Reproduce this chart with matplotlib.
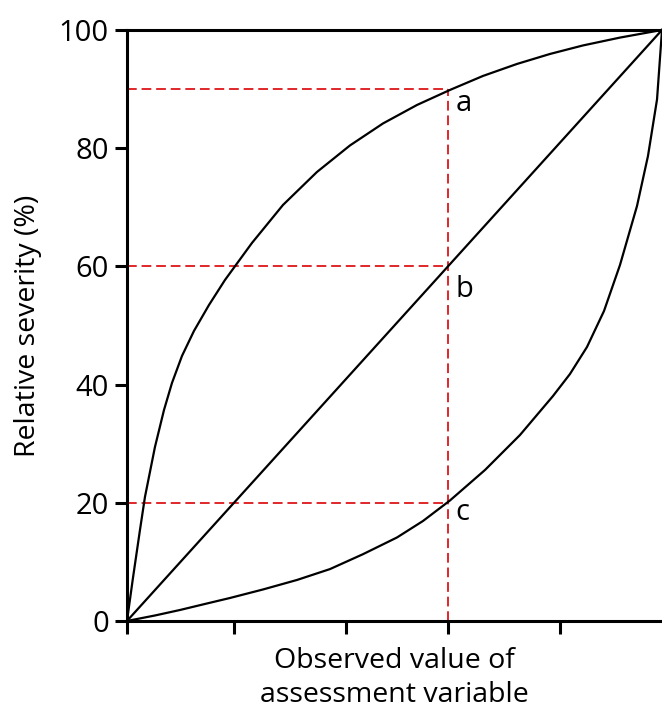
import matplotlib
matplotlib.use('Agg')
import matplotlib.pyplot as plt

plt.rcParams['font.family'] = ['Open Sans', 'DejaVu Sans']

# Curve a (concave)
a_x = [0, 1.12, 2.43, 3.36, 5.23, 6.92, 8.41, 10.28, 12.52, 15.33, 18.32, 23.36,
       29.16, 35.51, 41.68, 47.85, 54.21, 60.37, 66.54, 72.90, 79.07, 85.23, 92.15, 100]
a_y = [0, 7.28, 15.40, 20.98, 29.44, 35.70, 40.27, 44.84, 49.07, 53.47, 57.70, 63.96,
       70.39, 75.97, 80.46, 84.18, 87.31, 89.85, 92.22, 94.25, 95.94, 97.38, 98.71, 100]

# Line b (linear)
b_x = [0, 100]
b_y = [0, 100]

# Curve c (convex)
c_x = [0, 5.23, 9.91, 14.58, 19.25, 25.42, 31.78, 37.94, 44.11, 50.47, 55.33,
       60.37, 66.92, 73.46, 79.63, 82.80, 85.98, 89.16, 92.15, 95.33, 97.38, 99.07, 100]
c_y = [0, 0.93, 1.86, 2.88, 3.89, 5.33, 6.94, 8.78, 11.30, 14.13, 16.92,
       20.39, 25.55, 31.47, 38.07, 41.79, 46.36, 52.45, 60.24, 70.22, 78.68, 88.24, 100]

# guide lines
guide_x = 60
guide_levels = [90, 60, 20]
point_labels = ['a', 'b', 'c']
label_dy = [-3.7, -5.2, -2.9]

y_ticks = [0, 20, 40, 60, 80, 100]
x_ticks = [0, 20, 41, 60, 81]

fig = plt.figure(figsize=(6.62, 7.15), dpi=100)
ax = fig.add_axes([0.1918, 0.1315, 0.8082, 0.8266])

red = '#e0262a'
for lvl in guide_levels:
    ax.plot([0, guide_x], [lvl, lvl], color=red, lw=1.4, dashes=(5, 2.5))
ax.plot([guide_x, guide_x], [0, max(guide_levels)], color=red, lw=1.4, dashes=(5, 2.5))

ax.plot(a_x, a_y, color='black', lw=1.6, clip_on=False, solid_joinstyle='round')
ax.plot(b_x, b_y, color='black', lw=1.6, clip_on=False)
ax.plot(c_x, c_y, color='black', lw=1.6, clip_on=False, solid_joinstyle='round')

for lvl, lab, dy in zip(guide_levels, point_labels, label_dy):
    ax.text(guide_x + 1.4, lvl + dy, lab, fontsize=21, ha='left', va='baseline')

ax.set_xlim(0, 100)
ax.set_ylim(0, 100)
ax.set_yticks(y_ticks)
ax.set_xticks(x_ticks)
ax.set_xticklabels([])
ax.tick_params(axis='both', direction='out', length=9, width=2.2, labelsize=21, pad=4)

ax.spines['right'].set_visible(False)
for s in ['left', 'bottom', 'top']:
    ax.spines[s].set_linewidth(2.2)

ax.set_ylabel('Relative severity (%)', fontsize=20.5, labelpad=12)
ax.set_xlabel('Observed value of\nassessment variable', fontsize=20.5, labelpad=6, linespacing=1.28)

plt.savefig('out.png', dpi=100)
